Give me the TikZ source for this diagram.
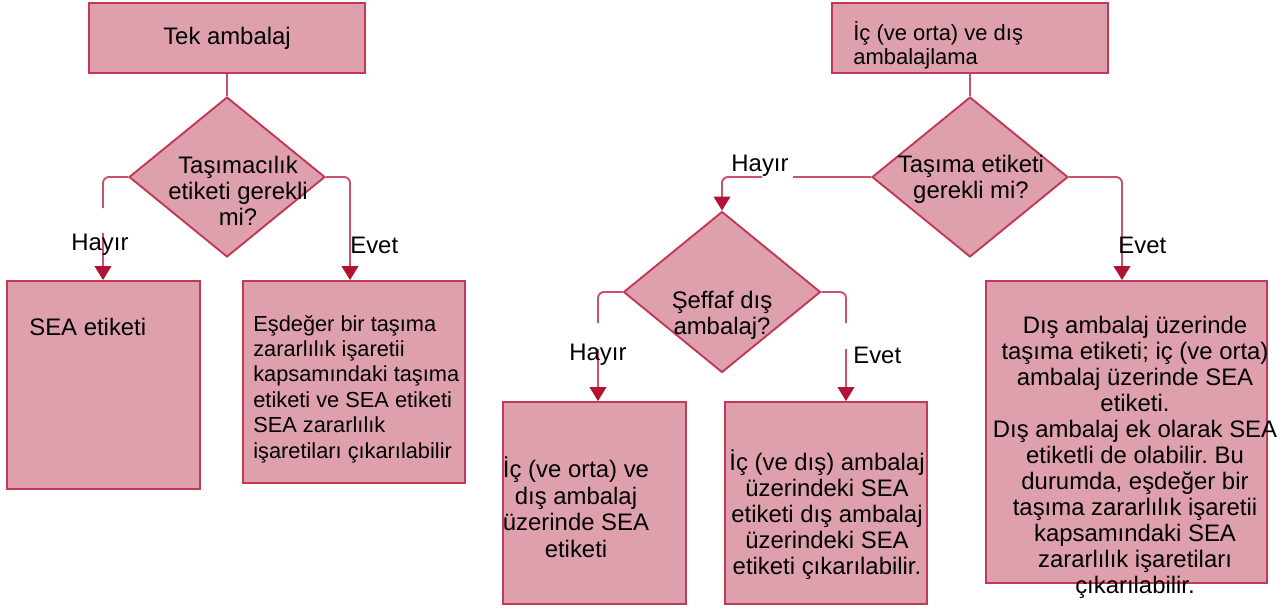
\documentclass[tikz,border=0pt]{standalone}
\usepackage{fontspec}
\setmainfont{Liberation Sans}
\frenchspacing
\usetikzlibrary{positioning,shapes.geometric,arrows.meta}
\definecolor{boxfill}{RGB}{222,160,172}
\definecolor{boxline}{RGB}{194,58,88}
\definecolor{connline}{RGB}{202,82,104}
\definecolor{arrowred}{RGB}{178,18,52}
\newcommand{\fsbig}{\fontsize{13.6}{14.8}\selectfont}
\newcommand{\fssmall}{\fontsize{12.4}{14.5}\selectfont}
\tikzset{
  box/.style={rectangle,draw=boxline,fill=boxfill,line width=1.1pt,inner sep=0pt},
  decision/.style={diamond,draw=boxline,fill=boxfill,line width=1.1pt,inner sep=0pt},
  txt/.style={inner sep=0pt,font=\fsbig,align=center},
  conn/.style={draw=connline,line width=1.1pt,rounded corners=3.4pt},
  arr/.style={-{Triangle[width=9.5pt,length=8pt,color=arrowred]}}
}
\begin{document}
\begin{tikzpicture}[x=0.02cm,y=-0.02cm]
\useasboundingbox (0,0) rectangle (1288,610);

\node[box,minimum width=5.52cm,minimum height=1.4cm,font=\fsbig] (tek) at (227,38) {Tek ambalaj};
\node[decision,minimum width=3.92cm,minimum height=3.2cm] (q1) at (227,177) {};
\node[txt] (q1t) at (238,191) {Taşımacılık\\etiketi gerekli\\mi?};
\node[box,minimum width=3.86cm,minimum height=4.16cm] (sea) at (103.5,385) {};
\node[txt,anchor=west] (seat) at (29,327) {SEA etiketi};
\node[box,minimum width=4.44cm,minimum height=4.04cm] (esd) at (354,382) {};
\node[txt,anchor=west,align=left,font=\fssmall] (esdt) at (253,389)
  {Eşdeğer bir taşıma\\zararlılık işaretii\\kapsamındaki taşıma\\etiketi ve SEA etiketi\\SEA zararlılık\\işaretiları çıkarılabilir};

\node[box,minimum width=5.52cm,minimum height=1.4cm] (ic) at (970,38) {};
\node[txt,anchor=west,align=left,font=\fontsize{12.5}{13.6}\selectfont] (ict) at (853,45) {İç (ve orta) ve dış\\ambalajlama};
\node[decision,minimum width=3.92cm,minimum height=3.2cm] (q2) at (970,177) {};
\node[txt] (q2t) at (971,179) {Taşıma etiketi\\gerekli mi?};
\node[decision,minimum width=3.94cm,minimum height=3.22cm] (q3) at (722,292) {};
\node[txt] (q3t) at (722,315) {Şeffaf dış\\ambalaj?};
\node[box,minimum width=3.66cm,minimum height=4.04cm] (ikisi) at (594.5,503) {};
\node[txt,font=\fontsize{13.6}{15.1}\selectfont] (ikisit) at (576,507) {İç (ve orta) ve\\dış ambalaj\\üzerinde SEA\\etiketi};
\node[box,minimum width=4.04cm,minimum height=4.04cm] (seffaf) at (826,503) {};
\node[txt] (seffaft) at (827,515) {İç (ve dış) ambalaj\\üzerindeki SEA\\etiketi dış ambalaj\\üzerindeki SEA\\etiketi çıkarılabilir.};
\node[box,minimum width=5.62cm,minimum height=6.04cm] (dis) at (1126.5,432) {};
\node[txt] (dist) at (1135,457) {Dış ambalaj üzerinde\\taşıma etiketi; iç (ve orta)\\ambalaj üzerinde SEA\\etiketi.\\Dış ambalaj ek olarak SEA\\etiketli de olabilir. Bu\\durumda, eşdeğer bir\\taşıma zararlılık işaretii\\kapsamındaki SEA\\zararlılık işaretiları\\çıkarılabilir.};

\coordinate (h1a) at (103,208);
\coordinate (h1b) at (103,233);
\coordinate (h2a) at (793,177);
\coordinate (h2b) at (762,177);
\coordinate (h3a) at (598,323);
\coordinate (h3b) at (598,349);
\coordinate (e3a) at (846,323);
\coordinate (e3b) at (846,349);

\draw[conn] (tek.south) -- (q1.north);
\draw[conn] (q1.west) -| (h1a);
\draw[conn,arr] (h1b) -- (h1b |- sea.north);
\draw[conn,arr] (q1.east) -| ([xshift=-0.08cm]esd.north);
\draw[conn] (ic.south) -- (q2.north);
\draw[conn] (q2.west) -- (h2a);
\draw[conn,arr] (h2b) -| (q3.north);
\draw[conn,arr] (q2.east) -| ([xshift=-0.09cm]dis.north);
\draw[conn] (q3.west) -| (h3a);
\draw[conn,arr] (h3b) -- (h3b |- ikisi.north);
\draw[conn] (q3.east) -| (e3a);
\draw[conn,arr] (e3b) -- (e3b |- seffaf.north);

\node[txt] (hayir1) at (100,245) {Hayır};
\node[txt,anchor=west] (evet1) at (350,245) {Evet};
\node[txt] (hayir2) at (760,166) {Hayır};
\node[txt,anchor=west] (evet2) at (1118,245) {Evet};
\node[txt] (hayir3) at (598,355) {Hayır};
\node[txt,anchor=west] (evet3) at (853,355) {Evet};
\end{tikzpicture}
\end{document}
